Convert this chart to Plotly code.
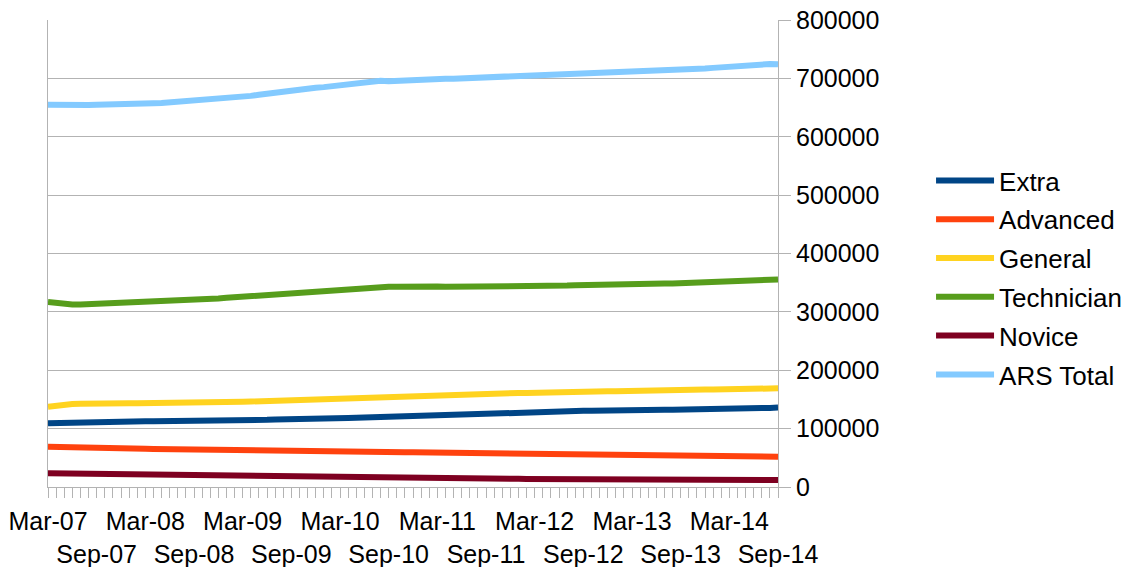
import plotly.graph_objects as go

# Monthly categories Mar-07 .. Sep-14
month_names = ["Jan", "Feb", "Mar", "Apr", "May", "Jun", "Jul", "Aug", "Sep", "Oct", "Nov", "Dec"]
months = []
for yr in range(2007, 2015):
    for mi, mn in enumerate(month_names):
        if (yr == 2007 and mi < 2) or (yr == 2014 and mi > 8):
            continue
        months.append(f"{mn}-{str(yr)[2:]}")

# Values in thousands of licensees
extra_k = [109, 109.5, 110, 110, 110.5, 110.5, 111, 111, 111.5, 111.5, 112, 112,
           112.5, 112.5, 112.5, 113, 113, 113, 113.5, 113.5, 113.5, 114, 114, 114,
           114.5, 114.5, 115, 115, 115.5, 115.5, 116, 116, 116.5, 116.5, 117, 117,
           117.5, 118, 118.5, 119, 119.5, 120, 120.5, 121, 121.5, 122, 122, 122.5,
           123, 123, 123.5, 124, 124.5, 125, 125.5, 126, 126.5, 127, 127.5, 128,
           128.5, 129, 129, 129.5, 130, 130, 130.5, 130.5, 131, 131, 131, 131.5,
           131.5, 132, 132, 132, 132.5, 132.5, 133, 133, 133.5, 133.5, 134, 134,
           134.5, 134.5, 135, 135, 135.5, 135.5, 136]

advanced_k = [69, 68.5, 68, 67.5, 67.5, 67, 66.5, 66.5, 66, 66, 65.8, 65.6,
              65.5, 65.3, 65.2, 65, 65, 64.8, 64.7, 64.6, 64.3, 64.1, 63.9, 63.7,
              63.5, 63.3, 63.1, 62.9, 62.7, 62.5, 62.3, 62.2, 62, 61.9, 61.8, 61.6,
              61.4, 61.2, 61, 60.6, 60.4, 60.2, 60, 59.8, 59.6, 59.4, 59.2, 59,
              58.8, 58.7, 58.6, 58.5, 58.3, 58.1, 57.9, 57.7, 57.5, 57.3, 57.1, 57,
              56.8, 56.7, 56.6, 56.5, 56.4, 56.3, 56.3, 56.2, 56.2, 56.1, 56.1, 56,
              56, 55.9, 55.8, 55.7, 55.6, 55.3, 55, 54.8, 54.6, 54.4, 54.2, 54,
              53.8, 53.6, 53.3, 53, 52.6, 52.3, 52]

general_k = [137.5, 139.5, 141, 142, 142.5, 143, 143, 143.5, 143.5, 144, 143.5, 143.5,
             143.5, 143.5, 143.5, 143.5, 144, 144, 144, 144.5, 144.5, 145, 145, 145.5,
             146, 146.5, 147, 147.5, 148, 148.5, 149, 149.5, 150, 150.5, 151, 151.5,
             152, 152.5, 153, 154, 154.5, 154.5, 155, 155, 155.5, 155.5, 156, 156.5,
             157, 157.5, 158, 158.5, 159, 159, 159.5, 160, 160, 160.5, 161, 161,
             161.5, 161.5, 162, 162, 162.5, 162.5, 163, 163, 163.5, 164, 164, 164.5,
             164.5, 165, 165, 165.5, 165.5, 166, 166, 166.5, 166.5, 167, 167, 167.5,
             167.5, 168, 168, 168.5, 168.5, 169, 169]

technician_k = [317, 315, 313.5, 312.5, 312.5, 313, 313.5, 314, 314.5, 315, 315.5, 316,
                316.5, 317.5, 318.5, 319, 319.5, 320, 320.5, 321.5, 322, 323, 324, 325,
                326, 327, 328, 329, 330, 331, 331.5, 332.5, 333, 334, 335, 336.5,
                338, 340, 341.5, 342.5, 343, 343, 343, 343, 343.5, 343, 343.5, 343.5,
                343.5, 343, 343, 342.5, 342.5, 342.5, 343, 343, 343.5, 343.5, 344, 344,
                344.5, 344.5, 345, 345, 345, 345.5, 346, 346.5, 347, 347, 347.5, 348,
                348, 348, 348.5, 348, 348.5, 348.5, 349, 349.5, 350, 350.5, 351, 352,
                353, 354, 355, 355.5, 356, 355.5, 355.5]

novice_k = [23.5, 23.3, 23.1, 22.9, 22.7, 22.5, 22.2, 22, 21.8, 21.6, 21.4, 21.2,
            21, 20.8, 20.6, 20.4, 20.2, 20, 19.8, 19.6, 19.4, 19.3, 19.2, 19.1,
            19, 19, 18.9, 18.9, 18.8, 18.8, 18.7, 18.4, 18.1, 17.8, 17.5, 17.3,
            17.1, 16.9, 16.8, 16.6, 16.5, 16.4, 16.3, 16.2, 16.1, 16.1, 16, 16,
            15.9, 15.7, 15.5, 15.3, 15, 14.8, 14.6, 14.4, 14.2, 14.1, 14, 13.9,
            13.8, 13.8, 13.7, 13.7, 13.6, 13.6, 13.5, 13.5, 13.4, 13.4, 13.3, 13.3,
            13.3, 13.2, 13.2, 13.2, 13.2, 13.2, 13.2, 13.2, 13.2, 13.1, 13.1, 13.1,
            13, 13, 12.9, 12.7, 12.5, 12.2, 12]

ars_total_k = [655, 654.5, 654, 653.5, 654, 654.5, 655, 655, 655.5, 655.5, 656, 656,
               657, 657.5, 658, 659, 660, 660.5, 661, 662, 663, 663.5, 665, 666,
               668, 670, 672, 674, 676, 678, 680, 681.5, 683, 684, 685, 686.5,
               689, 691, 693, 695, 695.5, 696, 695, 696, 696.5, 697, 697.5, 698,
               699, 699.5, 699.5, 700, 700.5, 701, 701.5, 702, 702.5, 703, 703.5, 704,
               705, 705.5, 706, 706, 706.5, 707, 708, 708.5, 709, 710, 710.5, 711.5,
               712.5, 713, 713, 713.5, 714, 714, 714.5, 715, 716, 717, 718, 719,
               720, 721.5, 723, 725, 725.5, 724.5, 724]

series_names = ["Extra", "Advanced", "General", "Technician", "Novice", "ARS Total"]
series_values = [extra_k, advanced_k, general_k, technician_k, novice_k, ars_total_k]
colors = ["#004586", "#ff420e", "#ffd320", "#579d1c", "#7e0021", "#83caff"]

y_ticks = [0, 100000, 200000, 300000, 400000, 500000, 600000, 700000, 800000]

x_idx = list(range(len(months)))
tick_vals = [i for i, m in enumerate(months) if m.startswith("Mar") or m.startswith("Sep")]
tick_text = [months[i] if months[i].startswith("Mar") else "<br>" + months[i] for i in tick_vals]

FONT = "Liberation Sans, Arial, sans-serif"
GRAY = "#b3b3b3"

fig = go.Figure()
for name, vals, col in zip(series_names, series_values, colors):
    fig.add_trace(go.Scatter(
        x=x_idx, y=[v * 1000 for v in vals], name=name, mode="lines",
        line=dict(color=col, width=6), legendgroup=name,
    ))

fig.update_layout(
    width=1131, height=567,
    margin=dict(l=48, r=353, t=20, b=80, autoexpand=False),
    paper_bgcolor="white", plot_bgcolor="white",
    font=dict(family=FONT, size=25, color="#000000"),
    showlegend=True,
    legend=dict(
        xref="container", yref="container",
        x=0.8232, xanchor="left", y=0.5106, yanchor="middle",
        font=dict(family=FONT, size=26, color="#000000"),
        itemwidth=58, tracegroupgap=2,
        bgcolor="rgba(0,0,0,0)",
    ),
    xaxis=dict(
        range=[0, len(months) - 1],
        automargin=False,
        tickmode="array", tickvals=tick_vals, ticktext=tick_text,
        tickangle=0,
        showgrid=False, zeroline=False,
        showline=True, linecolor=GRAY, linewidth=1,
        ticks="outside", ticklen=10, tickcolor=GRAY, tickwidth=1,
        ticklabelstandoff=2, ticklabeloverflow="allow",
        minor=dict(dtick=1, tick0=0, ticks="outside", ticklen=10, tickcolor=GRAY, showgrid=False),
        tickfont=dict(family=FONT, size=25, color="#000000"),
    ),
    yaxis=dict(
        side="right",
        automargin=False,
        range=[0, 800000],
        tickmode="array", tickvals=y_ticks, ticktext=[str(v) for v in y_ticks],
        showgrid=True, gridcolor=GRAY, gridwidth=1,
        zeroline=False,
        showline=True, linecolor=GRAY, linewidth=1, mirror=True,
        ticks="outside", ticklen=12, tickcolor=GRAY, tickwidth=1,
        ticklabeloverflow="allow",
        tickfont=dict(family=FONT, size=25, color="#000000"),
    ),
)

# Remove the default 8px page margin so the figure fills the window exactly.
fig.write_html(
    "out.html",
    config={"displayModeBar": False},
    post_script="document.body.style.margin='0';document.body.style.overflow='hidden';",
)
